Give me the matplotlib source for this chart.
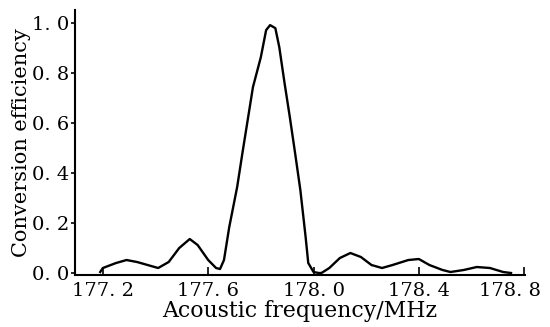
import matplotlib
matplotlib.use('Agg')
from matplotlib import pyplot as plt
from matplotlib import transforms

'''
Data read off the reference curve
'''
freq = [177.19, 177.20, 177.25, 177.29, 177.33, 177.41, 177.45, 177.49, 177.53,
        177.56, 177.60, 177.63, 177.645, 177.66, 177.68, 177.71, 177.73, 177.75,
        177.77, 177.80, 177.82, 177.835, 177.855, 177.87, 177.89, 177.91, 177.93,
        177.95, 177.97, 177.98, 178.00, 178.02, 178.03, 178.06, 178.10, 178.14,
        178.18, 178.22, 178.26, 178.30, 178.36, 178.40, 178.44, 178.49, 178.52,
        178.57, 178.62, 178.67, 178.72, 178.75]
eff = [0.004, 0.02, 0.04, 0.052, 0.044, 0.02, 0.044, 0.10, 0.136,
       0.112, 0.052, 0.02, 0.016, 0.052, 0.184, 0.344, 0.48, 0.612,
       0.744, 0.864, 0.972, 0.992, 0.98, 0.904, 0.76, 0.624, 0.48,
       0.332, 0.144, 0.04, 0.004, 0.0, 0.0, 0.02, 0.06, 0.08,
       0.064, 0.032, 0.02, 0.032, 0.052, 0.056, 0.032, 0.012, 0.004,
       0.012, 0.024, 0.02, 0.004, 0.0]

xticks = [177.2, 177.6, 178.0, 178.4, 178.8]
xlabels = ['177. 2', '177. 6', '178. 0', '178. 4', '178. 8']
yticks = [0.0, 0.2, 0.4, 0.6, 0.8, 1.0]
ylabels = ['0. 0', '0. 2', '0. 4', '0. 6', '0. 8', '1. 0']

plt.rcParams['font.family'] = ['DejaVu Serif']

'''
Plot
'''
fig = plt.figure(figsize=(5.5, 3.27), dpi=100)
ax = fig.add_axes([0.136, 0.159, 0.819, 0.81])
ax.plot(freq, eff, color='black', linewidth=1.7)

ax.set_xlim(177.0935, 178.804)
ax.set_ylim(-0.008, 1.052)
ax.spines['top'].set_visible(False)
ax.spines['right'].set_visible(False)
ax.spines['left'].set_linewidth(1.5)
ax.spines['bottom'].set_linewidth(1.5)

ax.set_xticks(xticks)
ax.set_xticklabels(xlabels, fontsize=14)
ax.set_yticks(yticks)
ax.set_yticklabels(ylabels, fontsize=14)
ax.tick_params(axis='x', direction='in', length=6, width=1.2, pad=5)
ax.tick_params(axis='y', direction='out', length=3, width=1.2, pad=1)

# last x label sits a bit left of its tick in the original, keep it inside the figure
last = ax.get_xticklabels()[-1]
last.set_transform(last.get_transform() + transforms.ScaledTranslation(-10 / 72, 0, fig.dpi_scale_trans))

ax.set_xlabel('Acoustic frequency/MHz', fontsize=15.8, labelpad=0)
ax.set_ylabel('Conversion efficiency', fontsize=15, labelpad=1)

fig.savefig('out.png', dpi=100)
